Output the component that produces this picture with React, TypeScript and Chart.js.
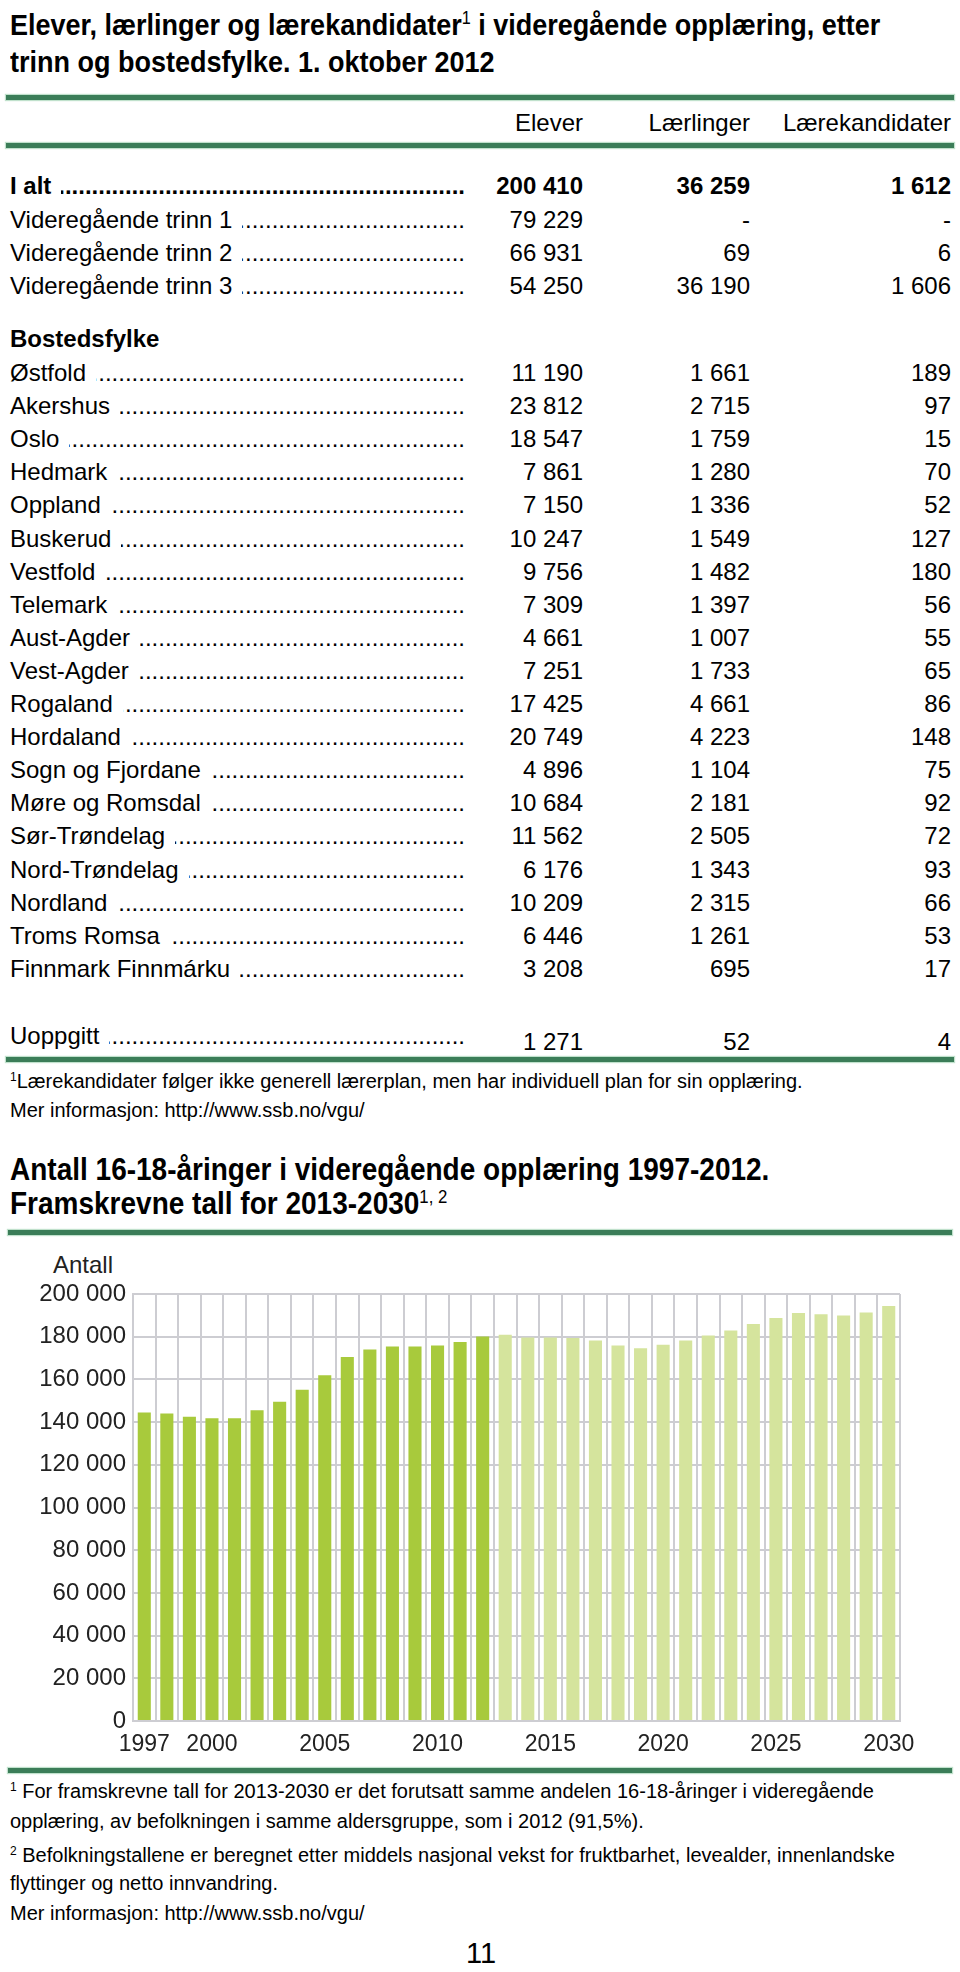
import React, { useEffect, useRef } from 'react';
import { Chart, registerables } from 'chart.js';

Chart.register(...registerables);

const FONT = '"Liberation Sans", Arial, Helvetica, sans-serif';

// ---------- Table data ----------
const columnHeaders = ['Elever', 'Lærlinger', 'Lærekandidater'];

const totalLabels = ['I alt', 'Videregående trinn 1', 'Videregående trinn 2', 'Videregående trinn 3'];
const totalElever = [200410, 79229, 66931, 54250];
const totalLaerlinger = [36259, null, 69, 36190];
const totalKandidater = [1612, null, 6, 1606];

const countyLabels = [
  'Østfold', 'Akershus', 'Oslo', 'Hedmark', 'Oppland', 'Buskerud', 'Vestfold', 'Telemark',
  'Aust-Agder', 'Vest-Agder', 'Rogaland', 'Hordaland', 'Sogn og Fjordane', 'Møre og Romsdal',
  'Sør-Trøndelag', 'Nord-Trøndelag', 'Nordland', 'Troms Romsa', 'Finnmark Finnmárku',
];
const countyElever = [11190, 23812, 18547, 7861, 7150, 10247, 9756, 7309, 4661, 7251, 17425, 20749, 4896, 10684, 11562, 6176, 10209, 6446, 3208];
const countyLaerlinger = [1661, 2715, 1759, 1280, 1336, 1549, 1482, 1397, 1007, 1733, 4661, 4223, 1104, 2181, 2505, 1343, 2315, 1261, 695];
const countyKandidater = [189, 97, 15, 70, 52, 127, 180, 56, 55, 65, 86, 148, 75, 92, 72, 93, 66, 53, 17];

const unknownLabel = 'Uoppgitt';
const unknownValues = [1271, 52, 4];

// ---------- Chart data ----------
const years = [
  '1997', '1998', '1999', '2000', '2001', '2002', '2003', '2004', '2005', '2006', '2007', '2008',
  '2009', '2010', '2011', '2012', '2013', '2014', '2015', '2016', '2017', '2018', '2019', '2020',
  '2021', '2022', '2023', '2024', '2025', '2026', '2027', '2028', '2029', '2030',
];
const historicalValues = [144500, 144000, 142500, 141800, 141800, 145600, 149500, 155200, 161900, 170500, 174000, 175400, 175400, 175900, 177500, 180100];
const projectedValues = [180900, 179600, 179600, 179400, 178200, 175900, 174600, 176200, 178200, 180600, 182900, 186000, 188800, 191100, 190500, 189900, 191300, 194400];
const xTickLabels = ['1997', '2000', '2005', '2010', '2015', '2020', '2025', '2030'];

const DARK_BAR = '#a8ca3c';
const LIGHT_BAR = '#d5e49d';
const GRID = '#cdcdd2';
const RULE = '#3b7d58';

const BL = 0.8305; // baseline offset factor for line-height == font-size

function fmt(n: number | null): string {
  if (n === null || n === undefined) return '-';
  return String(n).replace(/\B(?=(\d{3})+(?!\d))/g, ' ');
}

const DOTS = '.'.repeat(200);

function Sup({ children }: { children: React.ReactNode }) {
  return (
    <span style={{ fontSize: '0.6em', position: 'relative', top: '-0.6em', fontWeight: 400 }}>{children}</span>
  );
}

function Line({ x, baseline, size, bold, children, color, align, width, stretch }: any) {
  const top = baseline - BL * size;
  const style: React.CSSProperties = {
    position: 'absolute',
    top,
    left: align === 'right' ? x - (width || 300) : align === 'center' ? x - (width || 300) / 2 : x,
    width: align ? (width || 300) : undefined,
    textAlign: align || 'left',
    fontFamily: FONT,
    fontSize: size,
    lineHeight: size + 'px',
    height: size,
    fontWeight: bold ? 700 : 400,
    color: color || '#000',
    whiteSpace: 'nowrap',
  };
  if (stretch) {
    style.transform = `scaleY(${stretch})`;
    style.transformOrigin = `0px ${BL * size}px`;
  }
  return <div style={style}>{children}</div>;
}

function Rule({ top, left, width }: { top: number; left: number; width: number }) {
  return (
    <div
      style={{
        position: 'absolute', top, left, width, height: 5, background: RULE,
        boxShadow: '0 0 1px 1px rgba(150,205,170,0.6)',
      }}
    />
  );
}

const COL_RIGHT = [583, 750, 951];
const LEADER_END = 465;

function TableRow({ baseline, numBaseline, label, values, bold }: any) {
  const fs = 24;
  return (
    <>
      <div
        style={{
          position: 'absolute', left: 10, top: baseline - BL * fs, width: LEADER_END - 10,
          height: fs, lineHeight: fs + 'px', fontSize: fs, fontFamily: FONT,
          fontWeight: bold ? 700 : 400, display: 'flex', whiteSpace: 'nowrap', color: '#000',
        }}
      >
        <span style={{ flex: 'none' }}>{label}</span>
        <span style={{ flex: '1 1 auto', minWidth: 0, overflow: 'hidden', direction: 'rtl', marginLeft: 10 }}>{DOTS}</span>
      </div>
      {values.map((v: number | null, i: number) => (
        <Line key={i} x={COL_RIGHT[i]} baseline={numBaseline ?? baseline} size={fs} bold={bold} align="right" width={200}>
          {fmt(v)}
        </Line>
      ))}
    </>
  );
}

function BarChart() {
  const ref = useRef<HTMLCanvasElement>(null);
  useEffect(() => {
    const values = [...historicalValues, ...projectedValues];
    const colors = values.map((_, i) => (i < historicalValues.length ? DARK_BAR : LIGHT_BAR));
    const chart = new Chart(ref.current as HTMLCanvasElement, {
      type: 'bar',
      data: {
        labels: years,
        datasets: [
          {
            data: values,
            backgroundColor: colors,
            borderWidth: 0,
            barPercentage: 0.58,
            categoryPercentage: 1,
          },
        ],
      },
      options: {
        animation: false,
        responsive: false,
        maintainAspectRatio: false,
        devicePixelRatio: 1,
        layout: { padding: { left: 0, right: 60, top: 50, bottom: 0 } },
        plugins: { legend: { display: false }, tooltip: { enabled: false }, title: { display: false } },
        scales: {
          x: {
            grid: { color: GRID, lineWidth: 2, drawTicks: false, offset: true },
            border: { color: GRID, width: 2 },
            ticks: {
              autoSkip: false,
              maxRotation: 0,
              minRotation: 0,
              padding: 10,
              color: '#222',
              font: { size: 23, family: FONT },
              callback: (_v: any, index: number) => (xTickLabels.includes(years[index]) ? years[index] : ''),
            },
            afterFit: (s: any) => {
              s.height = 43;
            },
          },
          y: {
            min: 0,
            max: 200000,
            grid: { color: GRID, lineWidth: 2, drawTicks: false },
            border: { color: GRID, width: 2 },
            ticks: {
              stepSize: 20000,
              padding: 7,
              color: '#222',
              font: { size: 24, family: FONT },
              callback: (v: any) => fmt(Number(v)),
            },
            afterFit: (s: any) => {
              s.width = 133;
            },
          },
        },
      },
    });
    return () => chart.destroy();
  }, []);
  return (
    <canvas
      ref={ref}
      width={960}
      height={520}
      style={{ position: 'absolute', left: 0, top: 1244, width: 960, height: 520 }}
    />
  );
}

export default function App() {
  const rowStep = 33.1;
  const totalsBaselines = [194, 228, 261, 293.5];
  const countyStart = 381;
  return (
    <div style={{ position: 'absolute', left: 0, top: 0, width: 960, height: 1972, background: '#fff', fontFamily: FONT }}>
      {/* Title */}
      <Line x={10} baseline={35} size={27} bold stretch={1.1}>
        Elever, lærlinger og lærekandidater<Sup>1</Sup> i videregående opplæring, etter
      </Line>
      <Line x={10} baseline={72} size={27} bold stretch={1.1}>
        trinn og bostedsfylke. 1. oktober 2012
      </Line>

      <Rule top={95} left={6} width={948} />
      {columnHeaders.map((h, i) => (
        <Line key={h} x={COL_RIGHT[i]} baseline={131} size={24} align="right" width={250}>
          {h}
        </Line>
      ))}
      <Rule top={143} left={6} width={948} />

      {totalLabels.map((lab, i) => (
        <TableRow
          key={lab}
          baseline={totalsBaselines[i]}
          label={lab}
          bold={i === 0}
          values={[totalElever[i], totalLaerlinger[i], totalKandidater[i]]}
        />
      ))}

      <Line x={10} baseline={347} size={24} bold>
        Bostedsfylke
      </Line>

      {countyLabels.map((lab, i) => (
        <TableRow
          key={lab}
          baseline={countyStart + i * rowStep}
          label={lab}
          values={[countyElever[i], countyLaerlinger[i], countyKandidater[i]]}
        />
      ))}

      <TableRow baseline={1044} numBaseline={1050} label={unknownLabel} values={unknownValues} />

      <Rule top={1057} left={6} width={948} />

      <Line x={10} baseline={1088} size={20}>
        <Sup>1</Sup>Lærekandidater følger ikke generell lærerplan, men har individuell plan for sin opplæring.
      </Line>
      <Line x={10} baseline={1117} size={20}>
        Mer informasjon: http://www.ssb.no/vgu/
      </Line>

      {/* Chart title */}
      <Line x={10} baseline={1180} size={28} bold stretch={1.1}>
        Antall 16-18-åringer i videregående opplæring 1997-2012.
      </Line>
      <Line x={10} baseline={1214} size={28} bold stretch={1.1}>
        Framskrevne tall for 2013-2030<Sup>1, 2</Sup>
      </Line>
      <Rule top={1230} left={8} width={944} />

      <Line x={53} baseline={1273} size={24} color="#222">
        Antall
      </Line>

      <BarChart />

      <Rule top={1768} left={8} width={944} />

      <Line x={10} baseline={1798} size={20}>
        <Sup>1</Sup> For framskrevne tall for 2013-2030 er det forutsatt samme andelen 16-18-åringer i videregående
      </Line>
      <Line x={10} baseline={1828} size={20}>
        opplæring, av befolkningen i samme aldersgruppe, som i 2012 (91,5%).
      </Line>
      <Line x={10} baseline={1862} size={20}>
        <Sup>2</Sup> Befolkningstallene er beregnet etter middels nasjonal vekst for fruktbarhet, levealder, innenlandske
      </Line>
      <Line x={10} baseline={1890} size={20}>
        flyttinger og netto innvandring.
      </Line>
      <Line x={10} baseline={1920} size={20}>
        Mer informasjon: http://www.ssb.no/vgu/
      </Line>

      <Line x={481} baseline={1963} size={29} align="center" width={100}>
        11
      </Line>
    </div>
  );
}
